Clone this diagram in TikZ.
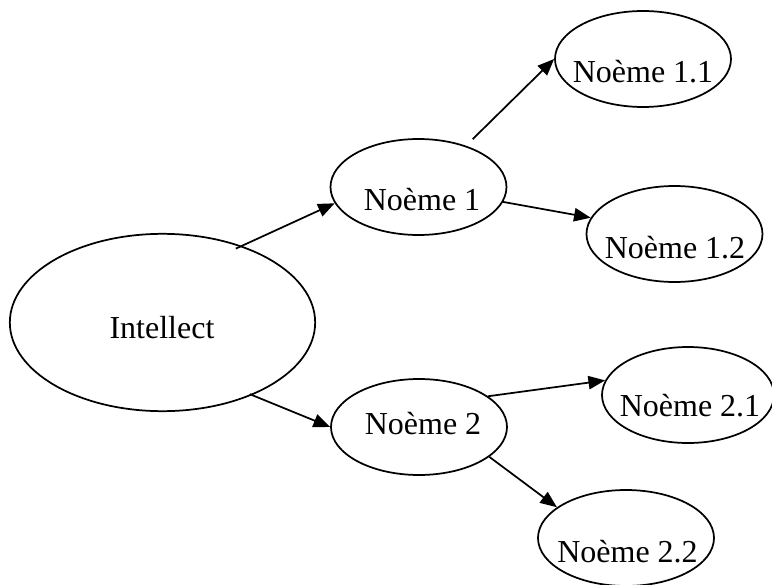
\documentclass[tikz,border=0pt]{standalone}
\usepackage{fontspec}
\setmainfont{Liberation Serif}
\usetikzlibrary{shapes.geometric,arrows.meta}

\tikzset{
  bulle/.style={draw, ellipse, line width=1.3pt, inner sep=0pt,
    minimum width=132pt, minimum height=72pt},
  texte/.style={font=\fontsize{24}{28}\selectfont, inner sep=0pt},
  fleche/.style={line width=1.3pt, -{Triangle[length=12.5pt,width=10pt]}},
}

\begin{document}
\begin{tikzpicture}[x=0.75pt,y=-0.75pt]
        \useasboundingbox (0,0) rectangle (772,585);

        % Les ellipses
        \node[bulle, minimum width=229pt, minimum height=133pt] (intellect) at (162.5,322.5) {};
        \node[bulle] (n1) at (418.5,187) {};
        \node[bulle] (n2) at (419,427) {};
        \node[bulle] (n11) at (643,59) {};
        \node[bulle] (n12) at (674.5,234) {};
        \node[bulle, minimum width=129pt] (n21) at (688,395) {};
        \node[bulle] (n22) at (626,538) {};

        % Les textes
        \node[texte] (tintellect) at (162,328) {Intellect};
        \node[texte] (tn1) at (422,200) {Noème 1};
        \node[texte] (tn2) at (423,424) {Noème 2};
        \node[texte] (tn11) at (643,72) {Noème 1.1};
        \node[texte] (tn12) at (675,248) {Noème 1.2};
        \node[texte] (tn21) at (690,405.5) {Noème 2.1};
        \node[texte] (tn22) at (627.5,552) {Noème 2.2};

        % Les flèches
        \draw[fleche, shorten <=-5pt] (intellect.44.6) -- (n1.191);
        \draw[fleche, shorten <=-2pt] (intellect.-39.4) -- (n2.180);
        \draw[fleche, shorten <=7pt] (n1.41.4) -- (n11.180);
        \draw[fleche] (n1.-10.4) -- (n12.169);
        \draw[fleche] (n2.24.9) -- (n21.170);
        \draw[fleche] (n2.-23.6) -- (n22.156);
    \end{tikzpicture}
\end{document}
